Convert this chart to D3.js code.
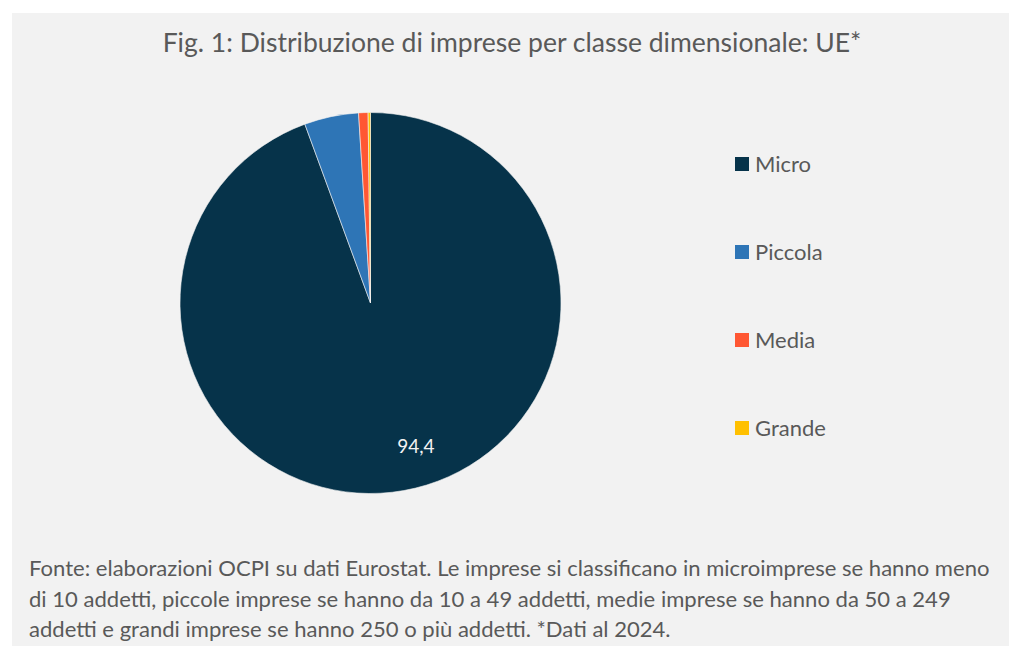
<!DOCTYPE html>
<html><head><meta charset="utf-8">
<script src="https://cdn.jsdelivr.net/npm/d3@7"></script>
<style>body{margin:0;background:#fff}svg{display:block}text{font-family:Lato,'Open Sans',sans-serif}</style>
</head><body>
<svg id="c" width="1009" height="646"></svg>
<script>
const categories = ["Micro","Piccola","Media","Grande"];
const values = [94.4, 4.6, 0.8, 0.2];
const colors = ["#06334a","#2e75b6","#ff5733","#ffc000"];
const labels = ["94,4", "", "", ""];
const titleText = "Fig. 1: Distribuzione di imprese per classe dimensionale: UE*";
const noteLines = [
 "Fonte: elaborazioni OCPI su dati Eurostat. Le imprese si classificano in microimprese se hanno meno",
 "di 10 addetti, piccole imprese se hanno da 10 a 49 addetti, medie imprese se hanno da 50 a 249",
 "addetti e grandi imprese se hanno 250 o più addetti. *Dati al 2024."
];

const svg = d3.select("#c");
svg.append("rect").attr("x",12).attr("y",13).attr("width",997).attr("height",633).attr("fill","#f2f2f2");

function fit(sel, w, base){
  sel.attr("font-size", base);
  const l = sel.node().getComputedTextLength();
  sel.attr("font-size", base*w/l);
}

const title = svg.append("text").attr("x",512).attr("y",52).attr("text-anchor","middle")
  .attr("fill","#595959").text(titleText);
fit(title, 699, 24);

const cx=370.5, cy=303, r=190.5;
const pie = d3.pie().sort(null).value(d=>d.v);
const data = categories.map((c,i)=>({c, v:values[i], col:colors[i], lab:labels[i]}));
const arcs = pie(data);
const arc = d3.arc().innerRadius(0).outerRadius(r);
const g = svg.append("g").attr("transform",`translate(${cx},${cy})`);
g.selectAll("path").data(arcs).join("path").attr("d",arc).attr("fill",d=>d.data.col)
  .attr("stroke","#f2f2f2").attr("stroke-width",0.6);
// label placed like Excel's best fit: slightly rotated from the slice's mid angle
const labR = r*0.79, labShift = -0.13;
g.selectAll("text.lab").data(arcs.filter(d=>d.data.lab)).join("text").attr("class","lab")
  .attr("transform",d=>{const a=(d.startAngle+d.endAngle)/2+labShift;return `translate(${labR*Math.sin(a)},${-labR*Math.cos(a)})`;})
  .attr("text-anchor","middle").attr("dy","0.35em").attr("fill","#f2f2f2").attr("font-size",19)
  .text(d=>d.data.lab);

const ly = d3.scalePoint().domain(categories).range([164,428]);
const lg = svg.append("g");
categories.forEach((c,i)=>{
  lg.append("rect").attr("x",735).attr("y",ly(c)-7).attr("width",14).attr("height",14).attr("fill",colors[i]);
  lg.append("text").attr("x",755).attr("y",ly(c)+7.5).attr("fill","#595959").attr("font-size",22).text(c);
});

const noteY = d3.scalePoint().domain(d3.range(noteLines.length)).range([576,637]);
const nt = noteLines.map((s,i)=>svg.append("text").attr("x",29).attr("y",noteY(i)).attr("fill","#595959").text(s));
fit(nt[0], 961, 18);
const fs = nt[0].attr("font-size");
nt.forEach(t=>t.attr("font-size",fs));
</script>
</body></html>
